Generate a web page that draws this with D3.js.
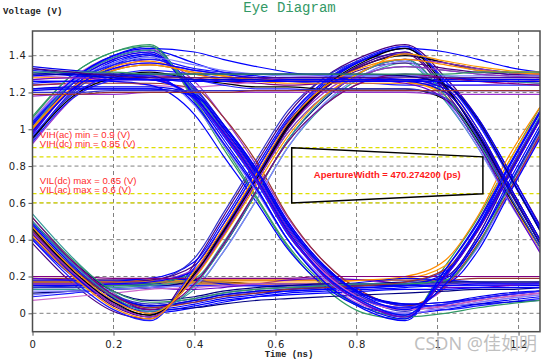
<!DOCTYPE html>
<html><head><meta charset="utf-8">
<script src="https://cdn.jsdelivr.net/npm/d3@7/dist/d3.min.js"></script>
<style>body{margin:0;background:#fff}svg{display:block}</style>
</head><body><svg id="c" width="547" height="361"></svg>
<script>
const times = [0, 0.1, 0.2, 0.29, 0.4, 0.47, 0.554, 0.63, 0.72, 0.82, 0.92, 1.02, 1.1, 1.17, 1.253];
const xTicks = [0, 0.2, 0.4, 0.6, 0.8, 1, 1.2];
const yTicks = [0, 0.2, 0.4, 0.6, 0.8, 1, 1.2, 1.4];
const thresholds = [0.9, 0.85, 0.65, 0.6];
const thresholdLabels = ["VIH(ac) min = 0.9 (V)", "VIH(dc) min = 0.85 (V)", "VIL(dc) max = 0.65 (V)", "VIL(ac) max = 0.6 (V)"];
const aperture = [[0.64, 0.9], [1.112, 0.85], [1.112, 0.65], [0.64, 0.6]];
const apertureLabel = "ApertureWidth = 470.274200 (ps)";
const traces = [
 [0.16,0.16,0.16,0.16,0.16,0.16,0.16,0.16,0.16,0.16,0.16,0.16,0.16,0.16,0.16],
 [1.06,1.30,1.42,1.46,1.15,0.90,0.62,0.36,0.14,0.00,-0.03,0.26,0.52,0.80,1.12],
 [0.19,0.19,0.18,0.18,0.18,0.18,0.18,0.18,0.18,0.18,0.18,0.18,0.19,0.19,0.19],
 [0.38,0.16,0.01,-0.03,0.27,0.52,0.82,1.08,1.28,1.40,1.46,1.28,1.06,0.80,0.48],
 [0.09,0.11,0.13,0.14,0.15,0.15,0.15,0.15,0.15,0.15,0.15,0.15,0.15,0.15,0.15],
 [0.54,0.30,0.11,0.03,0.13,0.33,0.62,0.90,1.13,1.29,1.36,1.15,0.90,0.64,0.34],
 [0.17,0.17,0.17,0.17,0.17,0.17,0.16,0.16,0.16,0.16,0.16,0.17,0.17,0.17,0.17],
 [0.92,1.17,1.32,1.38,1.26,1.07,0.80,0.52,0.28,0.11,0.04,0.14,0.37,0.63,0.96],
 [0.16,0.16,0.16,0.16,0.16,0.16,0.16,0.15,0.15,0.16,0.16,0.20,0.42,0.72,1.05],
 [1.24,1.25,1.27,1.29,1.28,1.26,1.25,1.24,1.25,1.27,1.29,1.28,1.27,1.26,1.25],
 [0.18,0.18,0.18,0.18,0.18,0.18,0.18,0.18,0.18,0.18,0.19,0.26,0.50,0.80,1.10],
 [1.29,1.28,1.26,1.24,1.23,1.24,1.26,1.28,1.29,1.28,1.26,1.24,1.24,1.25,1.27],
 [0.10,0.12,0.13,0.14,0.15,0.15,0.15,0.15,0.15,0.15,0.15,0.18,0.36,0.64,0.98],
 [0.14,0.15,0.17,0.19,0.18,0.16,0.15,0.14,0.15,0.17,0.19,0.18,0.17,0.16,0.15],
 [0.15,0.15,0.15,0.15,0.15,0.15,0.15,0.15,0.15,0.16,0.17,0.23,0.46,0.75,1.07],
 [0.19,0.18,0.16,0.14,0.13,0.14,0.16,0.18,0.19,0.18,0.16,0.14,0.14,0.15,0.17],
 [0.15,0.15,0.15,0.16,0.22,0.42,0.72,1.00,1.22,1.36,1.42,1.22,0.98,0.72,0.40],
 [1.03,1.27,1.39,1.43,1.36,1.31,1.29,1.28,1.28,1.28,1.27,1.24,1.06,0.80,0.47],
 [0.18,0.18,0.18,0.19,0.28,0.50,0.80,1.06,1.26,1.38,1.44,1.26,1.04,0.78,0.46],
 [1.25,1.26,1.26,1.24,1.08,0.86,0.60,0.35,0.15,0.03,0.00,0.02,0.05,0.07,0.09],
 [0.11,0.12,0.13,0.14,0.18,0.36,0.66,0.94,1.16,1.32,1.38,1.18,0.92,0.66,0.36],
 [0.14,0.14,0.15,0.17,0.30,0.54,0.84,1.10,1.28,1.38,1.41,1.36,1.32,1.30,1.29],
 [0.16,0.16,0.16,0.16,0.24,0.45,0.74,1.02,1.24,1.38,1.45,1.24,0.96,0.70,0.38],
 [0.48,0.26,0.08,0.00,0.03,0.06,0.09,0.11,0.12,0.13,0.14,0.16,0.34,0.62,0.95],
 [0.15,0.15,0.15,0.16,0.22,0.42,0.72,0.98,1.18,1.30,1.34,1.32,1.30,1.29,1.28],
 [1.24,1.25,1.25,1.25,1.22,1.07,0.82,0.53,0.28,0.11,0.04,0.15,0.38,0.64,0.97],
 [0.17,0.17,0.17,0.18,0.26,0.48,0.78,1.04,1.22,1.33,1.36,1.33,1.31,1.30,1.29],
 [0.97,1.23,1.36,1.41,1.21,1.01,0.75,0.47,0.24,0.09,0.04,0.02,0.04,0.06,0.08],
 [0.13,0.13,0.14,0.15,0.19,0.38,0.67,0.93,1.13,1.26,1.30,1.29,1.27,1.26,1.25],
 [0.45,0.22,0.05,-0.01,0.22,0.45,0.75,1.02,1.22,1.35,1.40,1.36,1.33,1.31,1.30],
 [0.16,0.16,0.16,0.17,0.24,0.44,0.73,1.00,1.20,1.32,1.38,1.36,1.33,1.31,1.30],
 [0.17,0.17,0.17,0.17,0.17,0.17,0.17,0.17,0.17,0.18,0.20,0.29,0.53,0.83,1.12],
 [1.00,1.25,1.38,1.42,1.19,0.98,0.72,0.44,0.22,0.07,0.02,0.04,0.07,0.09,0.11],
 [1.28,1.28,1.28,1.28,1.28,1.28,1.28,1.28,1.28,1.28,1.26,1.18,0.94,0.66,0.34],
 [1.05,1.28,1.40,1.44,1.16,0.93,0.66,0.40,0.18,0.04,0.00,0.03,0.06,0.08,0.10],
 [0.12,0.12,0.13,0.14,0.16,0.33,0.62,0.90,1.14,1.30,1.37,1.16,0.90,0.63,0.34],
 [0.95,1.21,1.35,1.40,1.23,1.03,0.78,0.50,0.26,0.10,0.05,0.06,0.08,0.10,0.12],
 [0.96,1.19,1.29,1.32,1.30,1.28,1.27,1.26,1.25,1.25,1.24,1.24,1.24,1.24,1.24],
 [1.02,1.26,1.39,1.43,1.20,1.00,0.74,0.46,0.23,0.08,0.03,0.05,0.08,0.10,0.12],
 [1.02,1.27,1.40,1.44,1.42,1.38,1.34,1.31,1.29,1.28,1.27,1.27,1.27,1.27,1.27],
 [1.00,1.25,1.38,1.42,1.19,0.98,0.72,0.44,0.20,0.05,-0.02,0.20,0.45,0.72,1.05],
 [0.15,0.15,0.16,0.17,0.23,0.45,0.75,1.03,1.25,1.38,1.44,1.42,1.38,1.34,1.31],
 [1.04,1.27,1.40,1.45,1.17,0.95,0.68,0.40,0.17,0.02,-0.04,0.24,0.50,0.78,1.10],
 [0.47,0.25,0.08,0.02,0.03,0.05,0.07,0.08,0.09,0.10,0.11,0.12,0.13,0.13,0.14],
 [0.94,1.20,1.34,1.39,1.22,1.03,0.76,0.48,0.24,0.08,0.01,0.16,0.40,0.66,0.99],
 [1.22,1.22,1.22,1.22,1.18,1.01,0.76,0.48,0.25,0.10,0.05,0.04,0.05,0.06,0.07],
 [0.98,1.23,1.37,1.41,1.18,0.97,0.71,0.43,0.21,0.06,-0.01,0.22,0.47,0.74,1.06],
 [1.07,1.30,1.42,1.45,1.16,0.92,0.63,0.37,0.16,0.03,-0.02,0.00,0.03,0.05,0.07],
 [1.00,1.22,1.32,1.35,1.31,1.29,1.27,1.27,1.27,1.27,1.27,1.22,1.00,0.72,0.40],
 [0.43,0.21,0.04,-0.02,0.21,0.43,0.73,1.01,1.22,1.35,1.41,1.20,0.95,0.69,0.38],
 [1.04,1.25,1.35,1.38,1.33,1.31,1.30,1.30,1.30,1.29,1.29,1.24,1.04,0.78,0.45],
 [1.01,1.26,1.39,1.43,1.20,0.99,0.73,0.45,0.21,0.06,-0.01,0.21,0.46,0.73,1.07],
 [0.95,1.18,1.28,1.31,1.27,1.25,1.23,1.23,1.22,1.22,1.22,1.16,0.94,0.66,0.36],
 [1.18,1.19,1.19,1.20,1.20,1.20,1.20,1.20,1.20,1.20,1.20,1.19,1.19,1.19,1.19],
 [1.01,1.23,1.34,1.37,1.30,1.27,1.26,1.25,1.25,1.25,1.25,1.20,0.98,0.70,0.38],
 [0.20,0.20,0.19,0.19,0.19,0.19,0.19,0.19,0.20,0.20,0.20,0.20,0.20,0.20,0.20],
 [1.00,1.22,1.32,1.35,1.31,1.29,1.27,1.27,1.26,1.26,1.26,1.26,1.26,1.26,1.26],
 [0.07,0.09,0.11,0.13,0.14,0.15,0.16,0.16,0.16,0.16,0.16,0.16,0.16,0.16,0.16],
 [1.05,1.26,1.36,1.39,1.35,1.32,1.30,1.29,1.29,1.29,1.29,1.29,1.29,1.29,1.29],
 [1.34,1.32,1.30,1.28,1.27,1.27,1.26,1.26,1.26,1.26,1.26,1.26,1.26,1.26,1.26],
 [0.93,1.17,1.27,1.30,1.27,1.24,1.22,1.22,1.21,1.21,1.21,1.21,1.21,1.21,1.21],
 [0.98,1.22,1.33,1.36,1.32,1.30,1.28,1.27,1.27,1.27,1.25,1.16,0.92,0.64,0.33],
 [0.99,1.22,1.33,1.36,1.32,1.30,1.28,1.28,1.28,1.27,1.27,1.27,1.28,1.28,1.28],
 [0.49,0.27,0.10,0.04,0.06,0.09,0.11,0.12,0.13,0.14,0.15,0.19,0.40,0.69,1.02],
 [0.44,0.24,0.09,0.04,0.07,0.10,0.12,0.13,0.14,0.15,0.15,0.15,0.16,0.16,0.16],
 [0.40,0.20,0.06,0.01,0.04,0.07,0.09,0.10,0.11,0.12,0.13,0.13,0.14,0.14,0.14],
 [0.50,0.28,0.12,0.07,0.09,0.12,0.14,0.15,0.16,0.16,0.17,0.17,0.17,0.17,0.17],
 [0.46,0.25,0.10,0.05,0.08,0.11,0.13,0.14,0.15,0.16,0.16,0.16,0.17,0.17,0.17],
 [0.44,0.24,0.09,0.04,0.07,0.10,0.12,0.13,0.14,0.15,0.16,0.20,0.42,0.72,1.05],
 [0.41,0.21,0.07,0.02,0.05,0.08,0.10,0.12,0.13,0.14,0.15,0.22,0.47,0.77,1.09],
 [0.52,0.29,0.12,0.06,0.08,0.11,0.13,0.14,0.15,0.16,0.16,0.18,0.37,0.66,1.00],
 [0.45,0.24,0.09,0.03,0.06,0.09,0.11,0.13,0.14,0.15,0.17,0.24,0.45,0.74,1.06],
 [0.44,0.22,0.05,-0.02,0.20,0.42,0.72,1.00,1.22,1.36,1.42,1.22,0.98,0.72,0.40],
 [0.40,0.18,0.02,-0.04,0.25,0.48,0.78,1.05,1.26,1.39,1.45,1.26,1.03,0.77,0.45],
 [0.50,0.27,0.09,0.01,0.15,0.36,0.66,0.94,1.17,1.32,1.38,1.18,0.93,0.67,0.36],
 [0.46,0.23,0.06,-0.01,0.21,0.44,0.73,1.01,1.23,1.37,1.44,1.23,0.97,0.70,0.38],
 [0.44,0.22,0.05,-0.02,0.20,0.42,0.72,0.98,1.18,1.30,1.34,1.32,1.30,1.29,1.28],
 [0.42,0.20,0.03,-0.03,0.23,0.46,0.76,1.03,1.23,1.34,1.38,1.35,1.32,1.31,1.30],
 [0.52,0.28,0.10,0.02,0.16,0.37,0.67,0.93,1.13,1.26,1.30,1.28,1.26,1.25,1.24],
 [0.47,0.24,0.07,0.00,0.19,0.41,0.70,0.96,1.18,1.32,1.41,1.37,1.34,1.32,1.31],
 [1.27,1.28,1.27,1.27,1.17,0.98,0.72,0.44,0.22,0.07,0.02,0.04,0.07,0.09,0.11],
 [1.30,1.31,1.30,1.29,1.13,0.92,0.66,0.40,0.19,0.05,0.00,0.03,0.06,0.08,0.10],
 [1.22,1.23,1.23,1.23,1.19,1.03,0.78,0.50,0.26,0.10,0.05,0.06,0.09,0.11,0.12],
 [1.32,1.30,1.28,1.27,1.16,0.97,0.71,0.43,0.21,0.07,0.03,0.05,0.08,0.10,0.12],
 [1.27,1.28,1.27,1.27,1.17,0.98,0.72,0.44,0.20,0.05,-0.02,0.20,0.45,0.72,1.05],
 [1.29,1.30,1.29,1.29,1.14,0.93,0.67,0.40,0.17,0.03,-0.03,0.24,0.49,0.77,1.09],
 [1.21,1.22,1.22,1.22,1.18,1.02,0.77,0.49,0.25,0.09,0.02,0.16,0.40,0.67,1.00],
 [1.31,1.29,1.28,1.27,1.17,0.99,0.73,0.45,0.21,0.06,-0.01,0.21,0.46,0.73,1.06],
 [1.26,1.26,1.27,1.27,1.26,1.26,1.26,1.27,1.27,1.27,1.27,1.22,1.00,0.72,0.40],
 [1.30,1.30,1.30,1.30,1.30,1.30,1.30,1.30,1.30,1.30,1.29,1.24,1.05,0.78,0.45],
 [1.20,1.20,1.21,1.21,1.21,1.21,1.21,1.21,1.22,1.22,1.22,1.17,0.95,0.67,0.36],
 [1.33,1.30,1.28,1.27,1.27,1.27,1.27,1.26,1.26,1.26,1.26,1.20,0.98,0.70,0.38],
 [1.26,1.26,1.27,1.27,1.26,1.26,1.26,1.26,1.26,1.26,1.26,1.26,1.26,1.26,1.26],
 [1.31,1.31,1.31,1.30,1.30,1.30,1.30,1.30,1.30,1.30,1.30,1.30,1.31,1.31,1.31],
 [1.19,1.19,1.20,1.20,1.20,1.20,1.21,1.21,1.21,1.21,1.21,1.21,1.21,1.21,1.21],
 [1.33,1.31,1.29,1.28,1.28,1.28,1.28,1.28,1.28,1.28,1.28,1.28,1.28,1.28,1.28]
];
const traceColors = ["#0000ff","#ff9900","#000080","#9933cc","#0000ff","#1a1aff","#2222ff","#339966",
                     "#cc66cc","#3333cc","#ff8c00","#0000ff","#33999a","#6600cc","#993333","#8080ff",
                     "#0000dd","#800080","#0000ff","#000000","#0000ff","#4b0082","#0000ee"];

const W = 547, H = 361;
const plot = {left: 32.5, right: 540, top: 31, bottom: 331.7};
const x = d3.scaleLinear().domain([0, 1.253]).range([plot.left, plot.right]);
const y = d3.scaleLinear().domain([-0.1, 1.534]).range([plot.bottom, plot.top]);
const svg = d3.select("#c");
svg.append("rect").attr("width", W).attr("height", H).attr("fill", "#fff");

svg.append("defs").append("clipPath").attr("id", "clip")
  .append("rect").attr("x", plot.left).attr("y", plot.top)
  .attr("width", plot.right - plot.left).attr("height", plot.bottom - plot.top);

// grid
const grid = svg.append("g");
grid.selectAll(".gx").data(xTicks.filter(d => d > 0)).join("line")
  .attr("x1", d => x(d)).attr("x2", d => x(d)).attr("y1", plot.top).attr("y2", plot.bottom)
  .attr("stroke", "#808080").attr("stroke-dasharray", "4,3");
grid.selectAll(".gy").data(yTicks).join("line")
  .attr("x1", plot.left).attr("x2", plot.right).attr("y1", d => y(d)).attr("y2", d => y(d))
  .attr("stroke", "#808080").attr("stroke-dasharray", "4,3");
grid.selectAll(".th").data(thresholds).join("line")
  .attr("x1", plot.left).attr("x2", plot.right).attr("y1", d => y(d)).attr("y2", d => y(d))
  .attr("stroke", "#dede00").attr("stroke-width", 1.2).attr("stroke-dasharray", "4,3");

// traces
const line = d3.line().x((d, i) => x(times[i])).y(d => y(d)).curve(d3.curveMonotoneX);
svg.append("g").attr("clip-path", "url(#clip)")
  .selectAll("path").data(traces).join("path")
  .attr("d", line).attr("fill", "none")
  .attr("stroke", (d, i) => traceColors[(i * 7) % traceColors.length])
  .attr("stroke-width", 1.2);

// axes
const xAxis = d3.axisBottom(x).tickValues(xTicks).tickSize(4).tickFormat(d3.format("~g"));
const yAxis = d3.axisLeft(y).tickValues(yTicks).tickSize(4).tickFormat(d3.format("~g"));
const gx = svg.append("g").attr("transform", `translate(0,${plot.bottom})`).call(xAxis);
const gy = svg.append("g").attr("transform", `translate(${plot.left},0)`).call(yAxis);
[gx, gy].forEach(g => {
  g.select(".domain").remove();
  g.selectAll(".tick line").attr("stroke", "#555");
  g.selectAll(".tick text").attr("fill", "#222").attr("font-family", "DejaVu Sans").attr("font-size", 10)
    .attr("letter-spacing", 0.6);
});
gx.selectAll(".tick text").attr("dy", "0.95em");
gy.selectAll(".tick text").attr("x", -6);

svg.append("rect").attr("x", plot.left).attr("y", plot.top)
  .attr("width", plot.right - plot.left).attr("height", plot.bottom - plot.top)
  .attr("fill", "none").attr("stroke", "#4d4d4d").attr("stroke-width", 1.5);

// threshold labels
svg.selectAll(".tl").data(thresholds).join("text")
  .attr("x", x(0.018)).attr("y", d => y(d) - 9.5)
  .attr("fill", "#ff2a2a").attr("font-family", "Liberation Sans, Arial, sans-serif").attr("font-size", 9.6)
  .text((d, i) => thresholdLabels[i]);

// aperture
svg.append("path")
  .attr("d", d3.line().x(d => x(d[0])).y(d => y(d[1]))(aperture) + "Z")
  .attr("fill", "none").attr("stroke", "#000").attr("stroke-width", 1.5);
svg.append("text")
  .attr("x", x((aperture[0][0] + aperture[1][0]) / 2)).attr("y", y(0.75) + 2.5)
  .attr("text-anchor", "middle").attr("fill", "#ff1a1a")
  .attr("font-family", "Liberation Sans, Arial, sans-serif").attr("font-size", 9.5).attr("font-weight", "bold")
  .text(apertureLabel);

// titles
svg.append("text").attr("x", 289.5).attr("y", 12).attr("text-anchor", "middle")
  .attr("fill", "#339966").attr("font-family", "Liberation Mono, monospace").attr("font-size", 14)
  .text("Eye Diagram");
svg.append("text").attr("x", 3).attr("y", 14)
  .attr("fill", "#222").attr("font-family", "Liberation Mono, monospace").attr("font-size", 9).attr("font-weight", "bold")
  .text("Voltage (V)");
svg.append("text").attr("x", 289).attr("y", 357).attr("text-anchor", "middle")
  .attr("fill", "#222").attr("font-family", "Liberation Mono, monospace").attr("font-size", 9).attr("font-weight", "bold")
  .text("Time (ns)");

// watermark
svg.append("text").attr("x", 537).attr("y", 349.5).attr("text-anchor", "end")
  .attr("fill", "#b4b4b4").attr("fill-opacity", 0.85)
  .attr("font-family", "Noto Sans, Noto Sans CJK SC, sans-serif").attr("font-size", 18)
  .text("CSDN @佳如明");
</script></body></html>
